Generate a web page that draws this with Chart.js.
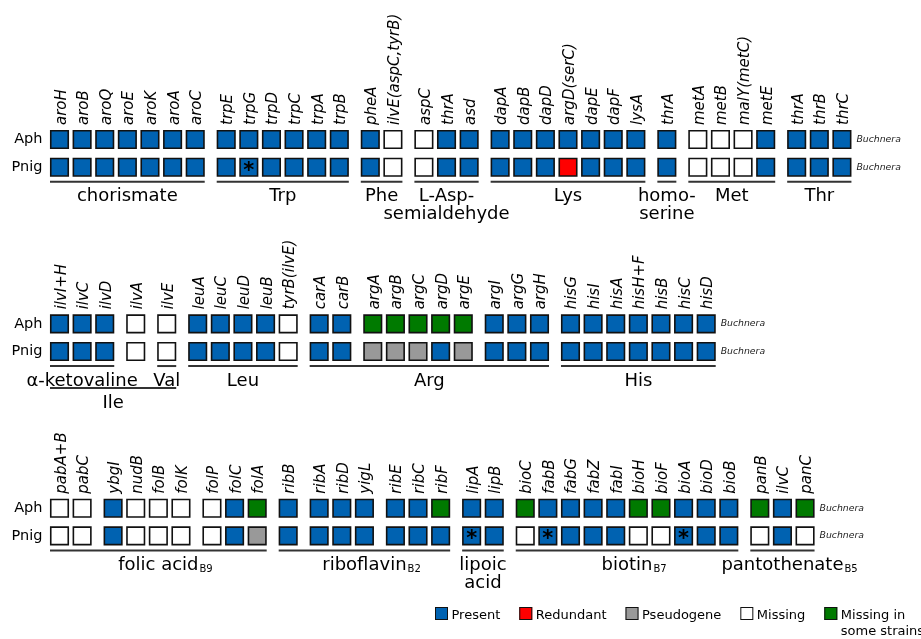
<!DOCTYPE html>
<html lang="en">
<head>
  <meta charset="UTF-8" />
  <title>Gene content Aph / Pnig</title>
  <script src="https://cdn.jsdelivr.net/npm/chart.js"></script>
  <style>
    html, body { margin: 0; padding: 0; background: #fff; }
    .wrap { position: relative; width: 921px; height: 639px; }
  </style>
</head>
<body>
  <div class="wrap"><canvas id="grade"></canvas></div>

  <script>
    // status codes: P present, R redundant, X pseudogene, M missing, V missing in some strains
    // band 1: aromatic + aspartate family amino acids
    const genes1 = ['aroH','aroB','aroQ','aroE','aroK','aroA','aroC',
                    'trpE','trpG','trpD','trpC','trpA','trpB',
                    'pheA','ilvE(aspC,tyrB)',
                    'aspC','thrA','asd',
                    'dapA','dapB','dapD','argD(serC)','dapE','dapF','lysA',
                    'thrA',
                    'metA','metB','malY(metC)','metE',
                    'thrA','thrB','thrC'];
    const blocks1 = [7, 6, 2, 3, 7, 1, 4, 3];
    const aph1  = 'PPPPPPP PPPPPP PM MPP PPPPPPP P MMMP PPP';
    const pnig1 = 'PPPPPPP PPPPPP PM MPP PPPRPPP P MMMP PPP';
    const stars1 = [8];
    const spans1 = [[0, 6, 'chorismate'], [7, 12, 'Trp'], [13, 14, 'Phe'],
                    [15, 17, 'L-Asp-\nsemialdehyde'], [18, 24, 'Lys'],
                    [25, 25, 'homo-\nserine'], [26, 29, 'Met'], [30, 32, 'Thr']];

    // band 2: branched chain, Arg, His
    const genes2 = ['ilvI+H','ilvC','ilvD','ilvA','ilvE',
                    'leuA','leuC','leuD','leuB','tyrB(ilvE)',
                    'carA','carB','argA','argB','argC','argD','argE','argI','argG','argH',
                    'hisG','hisI','hisA','hisH+F','hisB','hisC','hisD'];
    const blocks2 = [3, 1, 1, 5, 2, 5, 3, 7];
    const aph2  = 'PPP M M PPPPM PP VVVVV PPP PPPPPPP';
    const pnig2 = 'PPP M M PPPPM PP XXXPX PPP PPPPPPP';
    const stars2 = [];
    const spans2 = [[0, 2, 'α-ketovaline'], [4, 4, 'Val'], [5, 9, 'Leu'],
                    [10, 19, 'Arg'], [20, 26, 'His'], [0, 4, 'Ile', '', 1]];

    // band 3: vitamins and cofactors
    const genes3 = ['pabA+B','pabC','ybgI','nudB','folB','folK','folP','folC','folA',
                    'ribB','ribA','ribD','yigL','ribE','ribC','ribF',
                    'lipA','lipB',
                    'bioC','fabB','fabG','fabZ','fabI','bioH','bioF','bioA','bioD','bioB',
                    'panB','ilvC','panC'];
    const blocks3 = [2, 4, 3, 1, 3, 3, 2, 10, 3];
    const aph3  = 'MM PMMM MPV P PPP PPV PP VPPPPVVPPP VPV';
    const pnig3 = 'MM PMMM MPX P PPP PPP PP MPPPPMMPPP MPM';
    const stars3 = [16, 19, 25];
    const spans3 = [[0, 8, 'folic acid', 'B9'], [9, 15, 'riboflavin', 'B2'],
                    [16, 17, 'lipoic\nacid'], [18, 27, 'biotin', 'B7'],
                    [28, 30, 'pantothenate', 'B5']];

    const statusCodes = ['P', 'R', 'X', 'M', 'V'];
    const statusNames = ['Present', 'Redundant', 'Pseudogene', 'Missing', 'Missing in\nsome strains'];
    const statusColors = ['#0062b1', '#ff0000', '#999999', '#ffffff', '#007a00'];

    const bands = [
      { genes: genes1, blocks: blocks1, aph: aph1, pnig: pnig1, stars: stars1, spans: spans1 },
      { genes: genes2, blocks: blocks2, aph: aph2, pnig: pnig2, stars: stars2, spans: spans2 },
      { genes: genes3, blocks: blocks3, aph: aph3, pnig: pnig3, stars: stars3, spans: spans3 }
    ];

    const GAP = 0.37;        // extra space between blocks, in columns
    const BANDSTEP = 6.655;  // distance between bands, in rows
    const HALF = 9.5;        // half cell, px

    // column position of each gene: index plus one gap per block break
    function colPositions(blocks) {
      const xs = [];
      let i = 0;
      blocks.forEach((n, b) => {
        for (let k = 0; k < n; k++) { xs.push(i + b * GAP); i++; }
      });
      return xs;
    }

    // one dataset per status
    const datasets = statusCodes.map((code, s) => {
      const pts = [];
      bands.forEach((band, b) => {
        const xs = colPositions(band.blocks);
        const a = band.aph.replace(/ /g, '');
        const p = band.pnig.replace(/ /g, '');
        xs.forEach((xv, i) => {
          if (a[i] === code) pts.push({ x: xv, y: b * BANDSTEP });
          if (p[i] === code) pts.push({ x: xv, y: b * BANDSTEP + 1 });
        });
      });
      return {
        label: statusNames[s],
        data: pts,
        pointStyle: 'rect',
        pointRadius: 12.37,
        pointHoverRadius: 12.37,
        backgroundColor: statusColors[s],
        borderColor: '#111',
        borderWidth: 1.6,
        pointHoverBorderWidth: 1.6
      };
    });

    const labelPlugin = {
      id: 'geneLabels',
      afterDatasetsDraw(chart) {
        const { ctx, scales: { x, y } } = chart;
        ctx.save();
        bands.forEach((band, b) => {
          const xs = colPositions(band.blocks);
          const yA = y.getPixelForValue(b * BANDSTEP);
          const yP = y.getPixelForValue(b * BANDSTEP + 1);

          // gene names
          ctx.font = 'italic 15px "DejaVu Sans"';
          ctx.fillStyle = '#000';
          ctx.textAlign = 'left';
          ctx.textBaseline = 'alphabetic';
          band.genes.forEach((g, i) => {
            const px = x.getPixelForValue(xs[i]);
            ctx.save();
            ctx.translate(px + 6, yA - HALF - 5);
            ctx.rotate(-Math.PI / 2);
            ctx.fillText(g, 0, 0);
            ctx.restore();
          });

          // row names
          ctx.font = '14.5px "DejaVu Sans"';
          ctx.textAlign = 'right';
          ctx.textBaseline = 'middle';
          ctx.fillText('Aph', 42.5, yA);
          ctx.fillText('Pnig', 42.5, yP);

          // Buchnera tag
          const tx = x.getPixelForValue(xs[xs.length - 1]) + HALF + 5;
          ctx.font = 'italic 9.3px "DejaVu Sans"';
          ctx.fillStyle = '#222';
          ctx.textAlign = 'left';
          ctx.fillText('Buchnera', tx, yA);
          ctx.fillText('Buchnera', tx, yP);

          // asterisks
          ctx.font = 'bold 21px "DejaVu Sans"';
          ctx.fillStyle = '#000';
          ctx.textAlign = 'center';
          ctx.textBaseline = 'alphabetic';
          band.stars.forEach(i => {
            ctx.fillText('*', x.getPixelForValue(xs[i]), yP + 9.5);
          });

          // pathway underlines and names
          band.spans.forEach(([from, to, text, sub, level]) => {
            const x0 = x.getPixelForValue(xs[from]) - HALF;
            const x1 = x.getPixelForValue(xs[to]) + HALF;
            const ly = yP + 14.5 + (level ? 22 : 0);
            ctx.strokeStyle = '#333';
            ctx.lineWidth = 2;
            ctx.beginPath();
            ctx.moveTo(x0, ly);
            ctx.lineTo(x1, ly);
            ctx.stroke();

            const cx = (x0 + x1) / 2;
            ctx.font = '18px "DejaVu Sans"';
            ctx.fillStyle = '#000';
            ctx.textAlign = 'center';
            ctx.textBaseline = 'alphabetic';
            const lines = text.split('\n');
            lines.forEach((t, k) => ctx.fillText(t, cx, ly + 19.5 + k * 18));
            if (sub) {
              const w = ctx.measureText(lines[0]).width;
              ctx.font = '10px "DejaVu Sans"';
              ctx.textAlign = 'left';
              ctx.fillText(sub, cx + w / 2 + 1, ly + 22);
            }
          });
        });

        // legend
        let lx = 435;
        const ly = 607;
        ctx.font = '13px "DejaVu Sans"';
        ctx.textAlign = 'left';
        ctx.textBaseline = 'alphabetic';
        statusNames.forEach((name, s) => {
          ctx.fillStyle = statusColors[s];
          ctx.fillRect(lx, ly, 13, 13);
          ctx.strokeStyle = '#111';
          ctx.lineWidth = 1;
          ctx.strokeRect(lx + 0.5, ly + 0.5, 12, 12);
          ctx.fillStyle = '#000';
          const lines = name.split('\n');
          lines.forEach((t, k) => ctx.fillText(t, lx + 16.5, ly + 12.3 + k * 15.2));
          lx += 16.5 + ctx.measureText(lines[0]).width + 19;
        });
        ctx.restore();
      }
    };

    const xMin = -59.5 / 22.62;
    const yMin = -139.5 / 27.7;

    new Chart(document.getElementById('grade'), {
      type: 'scatter',
      data: { datasets },
      options: {
        responsive: true,
        maintainAspectRatio: false,
        animation: false,
        events: [],
        layout: { padding: 0, autoPadding: false },
        plugins: { legend: { display: false }, tooltip: { enabled: false } },
        scales: {
          x: { type: 'linear', display: false, min: xMin, max: xMin + 921 / 22.62 },
          y: { type: 'linear', display: false, reverse: true, min: yMin, max: yMin + 639 / 27.7 }
        }
      },
      plugins: [labelPlugin]
    });
  </script>
</body>
</html>
